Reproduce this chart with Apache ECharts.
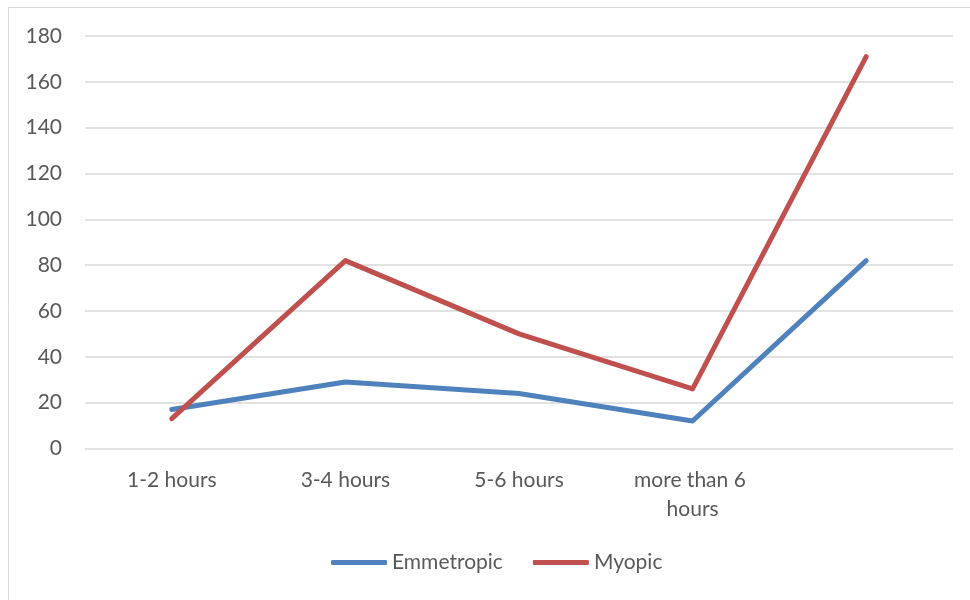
<!DOCTYPE html>
<html>
<head>
<meta charset="utf-8">
<script src="https://cdn.jsdelivr.net/npm/echarts@6/dist/echarts.min.js"></script>
<style>
  html, body { margin: 0; padding: 0; background: #ffffff; }
  #chart { width: 970px; height: 600px; }
</style>
</head>
<body>
<div id="chart"></div>
<script>
// Daily screen time groups (last slot has no label)
const categories = ['1-2 hours', '3-4 hours', '5-6 hours', 'more than 6 hours', ''];
const emmetropic = [17, 29, 24, 12, 82];
const myopic = [13, 82, 50, 26, 171];
const yTicks = { min: 0, max: 180, interval: 20 };

const textColor = '#595959';
const fontFamily = 'Lato, "Open Sans", sans-serif';

const chart = echarts.init(document.getElementById('chart'), null, { renderer: 'canvas' });

chart.setOption({
  backgroundColor: '#ffffff',
  animation: false,
  graphic: [{
    type: 'rect',
    shape: { x: 8.5, y: 7.5, width: 1200, height: 1200 },
    style: { fill: 'none', stroke: '#d9d9d9', lineWidth: 1 },
    silent: true
  }],
  grid: { left: 85, right: 17, top: 36, bottom: 151.5 },
  legend: {
    left: 326,
    top: 547,
    itemWidth: 56,
    itemHeight: 5,
    itemGap: 30,
    icon: 'roundRect',
    textStyle: { color: textColor, fontSize: 21, fontFamily: fontFamily },
    data: ['Emmetropic', 'Myopic']
  },
  xAxis: {
    type: 'category',
    data: categories,
    boundaryGap: true,
    axisLine: { show: false },
    axisTick: { show: false },
    axisLabel: {
      color: textColor,
      fontSize: 21,
      fontFamily: fontFamily,
      margin: 17,
      lineHeight: 29,
      width: 140,
      overflow: 'break',
      interval: 0
    }
  },
  yAxis: {
    type: 'value',
    min: yTicks.min,
    max: yTicks.max,
    interval: yTicks.interval,
    axisLine: { show: false },
    axisTick: { show: false },
    splitLine: { lineStyle: { color: '#d9d9d9', width: 1.5 } },
    axisLabel: { color: textColor, fontSize: 21, fontFamily: fontFamily, margin: 23 }
  },
  series: [
    {
      name: 'Emmetropic',
      type: 'line',
      data: emmetropic,
      symbol: 'none',
      lineStyle: { color: '#4f81bd', width: 5, cap: 'round', join: 'round' },
      itemStyle: { color: '#4f81bd' }
    },
    {
      name: 'Myopic',
      type: 'line',
      data: myopic,
      symbol: 'none',
      lineStyle: { color: '#c0504d', width: 5, cap: 'round', join: 'round' },
      itemStyle: { color: '#c0504d' }
    }
  ]
});
</script>
</body>
</html>
